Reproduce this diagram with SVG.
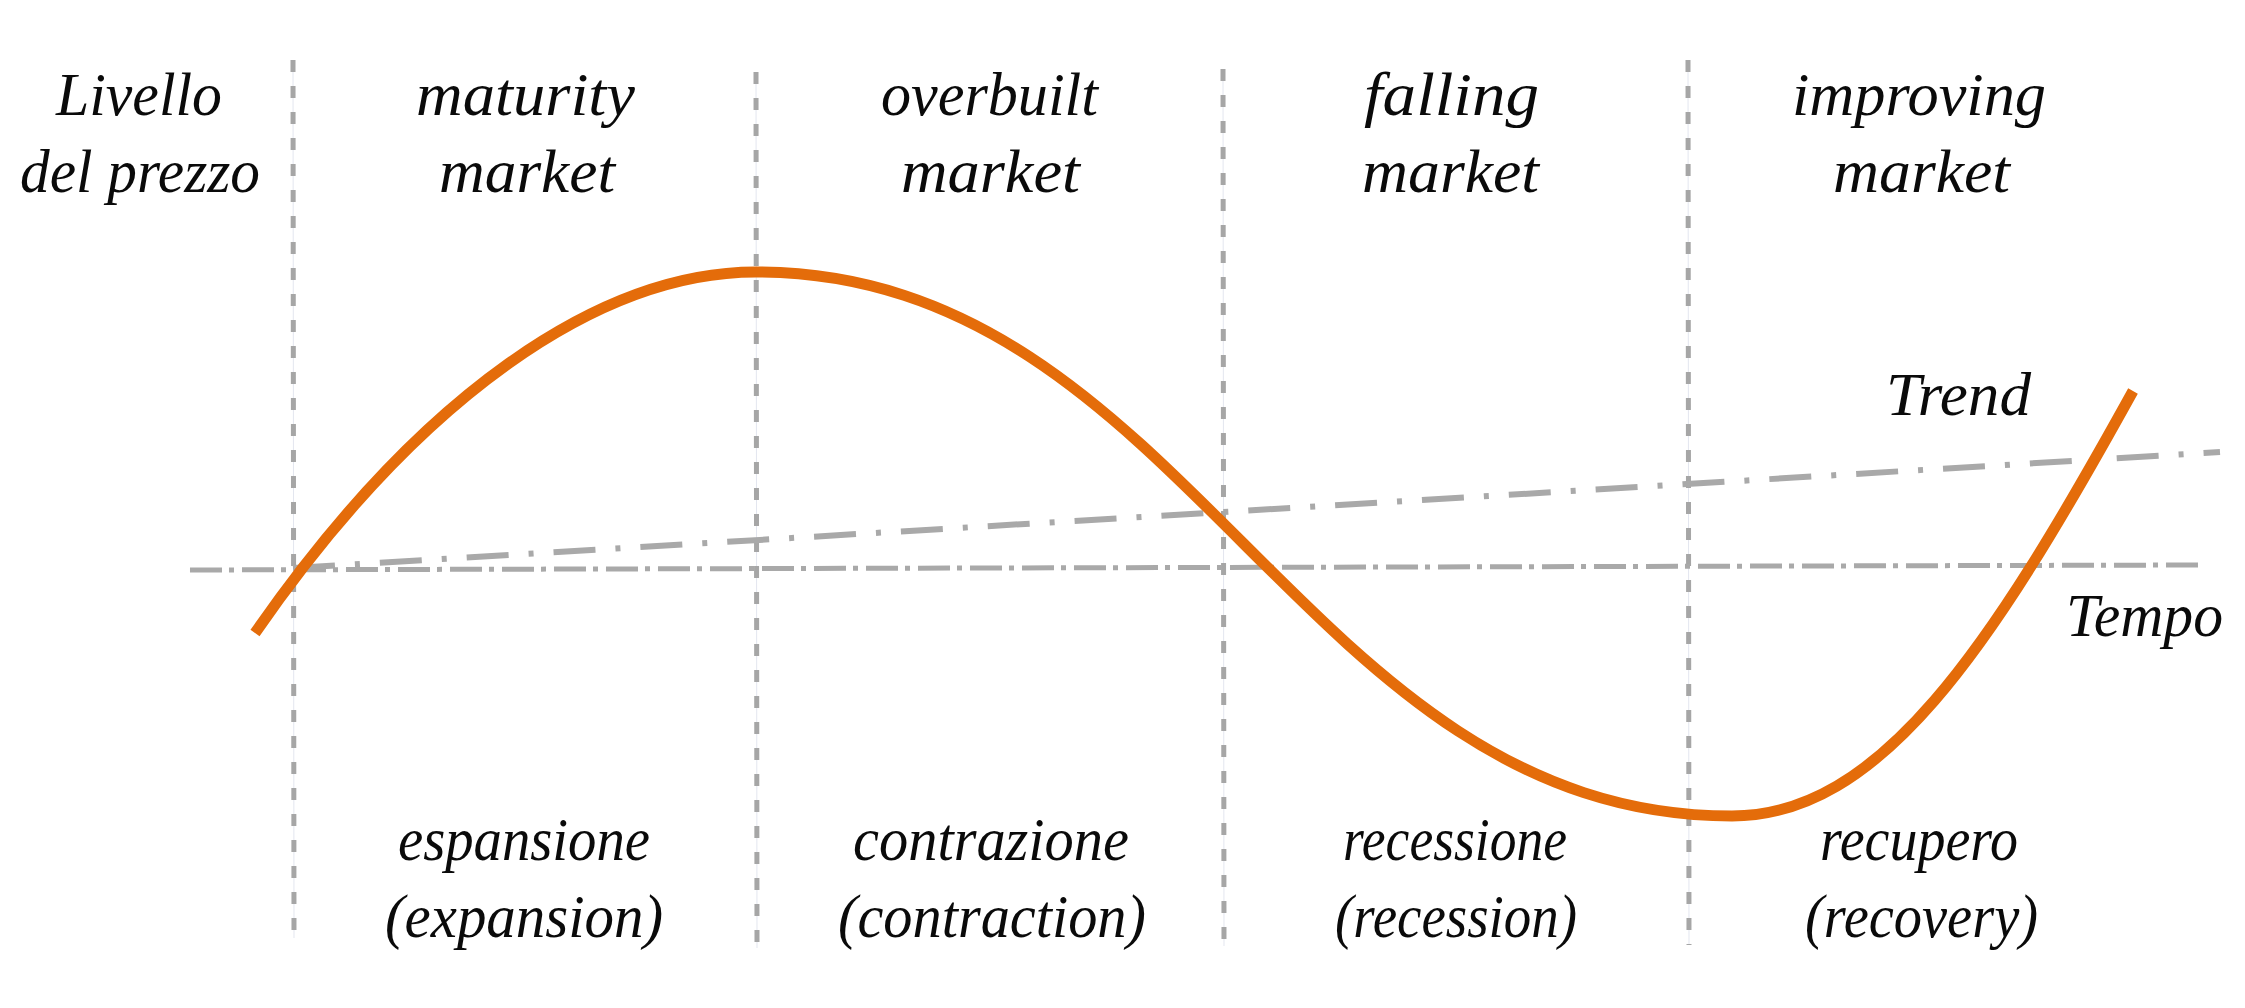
<svg xmlns="http://www.w3.org/2000/svg" width="2245" height="1008" viewBox="0 0 2245 1008">
  <style>
    .lbl { font-family: 'Liberation Serif', 'DejaVu Serif', serif; font-style: italic; font-size: 62px; fill: #0a0a0a; }
    .vguide { stroke: #a6a6a6; stroke-width: 5; stroke-dasharray: 12 14; fill: none; }
    .vhair { stroke: #e3e6ef; stroke-width: 1; fill: none; }
    .axis { stroke: #a9a9a9; stroke-width: 5; stroke-dasharray: 32 7 5 8; fill: none; }
    .trend { stroke: #a9a9a9; stroke-width: 6; stroke-dasharray: 42 20 5 20; fill: none; }
    .cycle { stroke: #e46c0a; stroke-width: 11; fill: none; }
  </style>
  <rect width="2245" height="1008" fill="#ffffff"/>

  <g id="guides">
    <line class="vhair" x1="293" y1="60" x2="294" y2="938"/>
    <line class="vhair" x1="756" y1="72" x2="757" y2="948"/>
    <line class="vhair" x1="1223" y1="69" x2="1224" y2="946"/>
    <line class="vhair" x1="1688" y1="60" x2="1689" y2="945"/>
    <line class="vguide" x1="293" y1="60" x2="294" y2="938"/>
    <line class="vguide" x1="756" y1="72" x2="757" y2="948"/>
    <line class="vguide" x1="1223" y1="69" x2="1224" y2="946"/>
    <line class="vguide" x1="1688" y1="60" x2="1689" y2="945"/>
  </g>

  <g id="connectors">
    <line id="tempo-axis" class="axis" x1="190" y1="570" x2="2201" y2="565"/>
    <line id="trend-line" class="trend" x1="293" y1="568" x2="2220" y2="452"/>
    <path id="cycle-curve" class="cycle" d="M255,633 C420,395 600,272 756,272 C1188,272 1300,816 1732,816 C1880,816 1990,650 2133,391"/>
  </g>

  <g font-family="'Liberation Serif', 'DejaVu Serif', serif" font-style="italic">
  <g id="node-price-level">
    <text class="lbl" x="56" y="115" textLength="166" lengthAdjust="spacingAndGlyphs">Livello</text>
    <text class="lbl" x="20" y="192" textLength="240" lengthAdjust="spacingAndGlyphs">del prezzo</text>
  </g>
  <g id="node-maturity">
    <text class="lbl" x="416" y="115" textLength="219" lengthAdjust="spacingAndGlyphs">maturity</text>
    <text class="lbl" x="439" y="192" textLength="176" lengthAdjust="spacingAndGlyphs">market</text>
  </g>
  <g id="node-overbuilt">
    <text class="lbl" x="881" y="115" textLength="217" lengthAdjust="spacingAndGlyphs">overbuilt</text>
    <text class="lbl" x="901" y="192" textLength="179" lengthAdjust="spacingAndGlyphs">market</text>
  </g>
  <g id="node-falling">
    <text class="lbl" x="1364" y="115" textLength="175" lengthAdjust="spacingAndGlyphs">falling</text>
    <text class="lbl" x="1362" y="192" textLength="177" lengthAdjust="spacingAndGlyphs">market</text>
  </g>
  <g id="node-improving">
    <text class="lbl" x="1792" y="115" textLength="254" lengthAdjust="spacingAndGlyphs">improving</text>
    <text class="lbl" x="1833" y="192" textLength="177" lengthAdjust="spacingAndGlyphs">market</text>
  </g>
  <g id="node-trend">
    <text class="lbl" x="1886" y="415" textLength="145" lengthAdjust="spacingAndGlyphs">Trend</text>
  </g>
  <g id="node-tempo">
    <text class="lbl" x="2066" y="636" textLength="157" lengthAdjust="spacingAndGlyphs">Tempo</text>
  </g>
  <g id="node-expansion">
    <text class="lbl" x="398" y="860" textLength="252" lengthAdjust="spacingAndGlyphs">espansione</text>
    <text class="lbl" x="385" y="937" textLength="278" lengthAdjust="spacingAndGlyphs">(expansion)</text>
  </g>
  <g id="node-contraction">
    <text class="lbl" x="853" y="860" textLength="276" lengthAdjust="spacingAndGlyphs">contrazione</text>
    <text class="lbl" x="838" y="937" textLength="308" lengthAdjust="spacingAndGlyphs">(contraction)</text>
  </g>
  <g id="node-recession">
    <text class="lbl" x="1343" y="860" textLength="224" lengthAdjust="spacingAndGlyphs">recessione</text>
    <text class="lbl" x="1335" y="937" textLength="242" lengthAdjust="spacingAndGlyphs">(recession)</text>
  </g>
  <g id="node-recovery">
    <text class="lbl" x="1820" y="860" textLength="198" lengthAdjust="spacingAndGlyphs">recupero</text>
    <text class="lbl" x="1805" y="937" textLength="233" lengthAdjust="spacingAndGlyphs">(recovery)</text>
  </g>
  </g>
</svg>
